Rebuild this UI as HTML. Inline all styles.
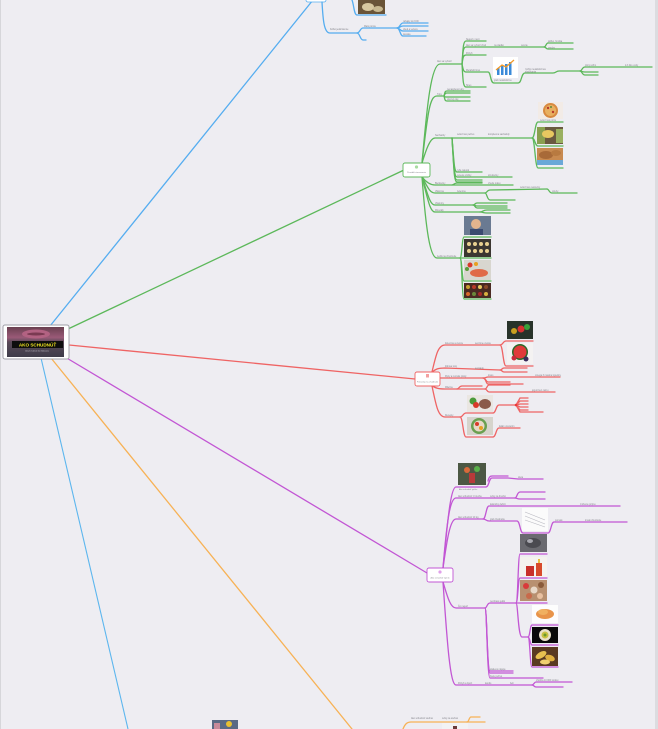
<!DOCTYPE html>
<html><head><meta charset="utf-8"><style>
html,body{margin:0;padding:0;background:#eeedf2;}
svg{display:block;}
.t{font-family:"Liberation Sans",sans-serif;font-size:2.3px;fill:#85858c;}
.g{stroke:#5cb85a;fill:none;stroke-width:1.3;stroke-linecap:round;}
.r{stroke:#ef6464;fill:none;stroke-width:1.3;stroke-linecap:round;}
.p{stroke:#c256d4;fill:none;stroke-width:1.3;stroke-linecap:round;}
.b{stroke:#55adf0;fill:none;stroke-width:1.3;stroke-linecap:round;}
.o{stroke:#f7b256;fill:none;stroke-width:1.3;stroke-linecap:round;}
.lb{stroke:#5cb6ee;fill:none;stroke-width:1.1;}
</style></head><body>
<svg width="658" height="729" viewBox="0 0 658 729" xmlns="http://www.w3.org/2000/svg">
<rect x="0" y="0" width="658" height="729" fill="#eeedf2"/>
<rect x="0" y="0" width="1" height="729" fill="#d6d6da"/>
<rect x="655" y="0" width="3" height="729" fill="#dcdce0"/>

<!-- main connectors -->
<path d="M50,326 L313,0" class="b" stroke-width="1"/>
<path d="M68,329 L404,170" class="g" stroke-width="1"/>
<path d="M69,345 L415,379" class="r" stroke-width="1"/>
<path d="M65,357 L427,573" class="p" stroke-width="1"/>
<path d="M51,358 L352,729" class="o" stroke-width="1"/>
<path d="M41,358 L128,729" class="lb" stroke-width="1"/>

<!-- ===== BLUE TOP ===== -->
<rect x="306" y="-10" width="20" height="12" rx="2" fill="#fff" stroke="#55adf0" stroke-width="0.8"/>
<path class="b" d="M322,2 C323,20 324,33 330,33 L357,33"/>
<path class="b" d="M357,33 C360,33 360,28 363,28 L397,28"/>
<path class="b" d="M397,28 C400,28 400,23 403,23 L428,23"/>
<path class="b" d="M397,28 C400,28 400,26 403,26 L428,26"/>
<path class="b" d="M397,28 C400,28 400,31 403,31 L428,31"/>
<path class="b" d="M397,28 C400,28 400,36 403,36 L426,36"/>
<path class="b" d="M357,33 C360,33 360,40 363,40 L366,40"/>
<path class="b" d="M352,0 C354,5 354,15 357,15 L386,15"/>
<rect x="358" y="0" width="27" height="14" fill="#6a5438"/>
<ellipse cx="368" cy="7" rx="6" ry="4" fill="#d8c8a0"/>
<ellipse cx="378" cy="9" rx="5" ry="3" fill="#c8b890"/>
<text class="t" x="330" y="30">Koľko jedál denne</text>
<text class="t" x="364" y="27">Malé porcie</text>
<text class="t" x="403" y="22">raňajky do 9:00</text>
<text class="t" x="403" y="30">obed a večera</text>
<text class="t" x="403" y="35">desiata</text>

<!-- ===== GREEN ===== -->
<path class="g" d="M422,163 C426,120 430,64 440,64 L462,64"/>
<path class="g" d="M462,64 C463,50 463,41 466,41 L486,41"/>
<path class="g" d="M462,64 C463,52 463,47 466,47 L544,47"/>
<path class="g" d="M544,47 C546,47 546,43 548,43 L573,43"/>
<path class="g" d="M544,47 C546,47 546,49 548,49 L573,49"/>
<path class="g" d="M462,64 C463,58 463,55 466,55 L486,55"/>
<path class="g" d="M462,64 C463,68 463,72 466,72 L488,72 C491,72 490,83 494,83 L518,83 C522,83 521,73 525,73 L553,73 C556,73 556,71 559,71 L580,71"/>
<path class="g" d="M580,71 C582,71 582,67 585,67 L652,67"/>
<path class="g" d="M580,71 C582,71 582,72 585,72 L598,72"/>
<path class="g" d="M580,71 C582,71 582,75 585,75 L598,75"/>
<path class="g" d="M462,64 C463,80 463,87 466,87 L486,87"/>
<rect x="493" y="57" width="25" height="21" fill="#fff"/>
<rect x="497" y="68" width="2.5" height="7" fill="#3a8ad8"/>
<rect x="501" y="66" width="2.5" height="9" fill="#3a8ad8"/>
<rect x="505" y="64" width="2.5" height="11" fill="#3a8ad8"/>
<rect x="509" y="62" width="2.5" height="13" fill="#3a8ad8"/>
<path d="M496,70 L502,65 L506,67 L514,60" stroke="#f39a2a" stroke-width="1.3" fill="none"/>
<text class="t" x="466" y="40">Nejesť v noci</text>
<text class="t" x="466" y="46">Ako sa vyhnúť chuti</text>
<text class="t" x="494" y="46">na sladké</text>
<text class="t" x="521" y="46">ovocie</text>
<text class="t" x="548" y="42">jablko, hruška</text>
<text class="t" x="548" y="48.5">orechy</text>
<text class="t" x="466" y="54">Pohyb</text>
<text class="t" x="466" y="71">Metabolizmus</text>
<text class="t" x="494" y="81">graf metabolizmu</text>
<text class="t" x="525" y="70">rýchly metabolizmus</text>
<text class="t" x="525" y="72.5">spaľovanie</text>
<text class="t" x="585" y="66">pitný režim</text>
<text class="t" x="625" y="66">2-3 litre vody</text>
<text class="t" x="466" y="86">Stres</text>
<text class="t" x="437" y="62">Ako sa vyhnúť</text>

<path class="g" d="M422,163 C428,110 430,96 437,96 L444,96"/>
<path class="g" d="M444,96 C445,92 445,91 447,91 L470,91"/>
<path class="g" d="M444,96 C445,94 445,93 447,93 L470,93"/>
<path class="g" d="M444,96 C445,97 445,97 447,97 L470,97"/>
<path class="g" d="M444,96 C445,100 445,101 447,101 L470,101"/>
<text class="t" x="437" y="95">Tuky</text>
<text class="t" x="447" y="90">nenasýtené tuky</text>
<text class="t" x="447" y="100">olivový olej</text>

<path class="g" d="M422,163 C426,150 430,138 435,138 L452,138"/>
<path class="g" d="M452,138 L532,138"/>
<path class="g" d="M532,138 C535,138 535,122 538,122 L563,122"/>
<path class="g" d="M532,138 C535,138 535,146 538,146 L563,146"/>
<path class="g" d="M532,138 C535,138 535,168 538,168 L563,168"/>
<path class="g" d="M452,138 C454,160 454,172 457,172 L482,172"/>
<path class="g" d="M452,138 C454,165 454,177 457,177 L512,177"/>
<path class="g" d="M452,138 C454,168 454,180 457,180 L482,180"/>
<path class="g" d="M452,138 C454,170 454,182 457,182 L482,182"/>
<text class="t" x="435" y="136">Sacharidy</text>
<text class="t" x="457" y="135">celozrnné pečivo</text>
<text class="t" x="488" y="135">komplexné sacharidy</text>
<text class="t" x="457" y="171">ryža natural</text>
<text class="t" x="457" y="176">ovsené vločky</text>
<text class="t" x="488" y="176">strukoviny</text>
<rect x="538" y="102" width="25" height="17" fill="#f2ebe6"/>
<circle cx="550.5" cy="110.5" r="7.5" fill="#d88a40"/>
<circle cx="550.5" cy="110.5" r="5.5" fill="#e8b060"/>
<circle cx="548" cy="108" r="1.2" fill="#b83a2a"/><circle cx="553" cy="112" r="1.2" fill="#b83a2a"/><circle cx="551" cy="107" r="1" fill="#5a8a3a"/>
<text class="t" x="540" y="121">celozrnná pizza</text>
<rect x="537" y="127" width="26" height="17" fill="#6a5a40"/>
<rect x="537" y="127" width="8" height="17" fill="#8aa050"/>
<ellipse cx="548" cy="134" rx="6" ry="4" fill="#e8c860"/>
<rect x="556" y="129" width="7" height="14" fill="#9ab060"/>
<rect x="537" y="148" width="26" height="17" fill="#c88a50"/>
<rect x="537" y="160" width="26" height="5" fill="#6aa8d8"/>
<ellipse cx="546" cy="155" rx="7" ry="4" fill="#a86a38"/>
<ellipse cx="556" cy="153" rx="5" ry="3" fill="#b87a40"/>

<path class="g" d="M422,177 C426,182 430,185 435,185 L513,185"/>
<path class="g" d="M452,185 C454,185 454,183 457,183 L482,183"/>
<text class="t" x="435" y="184">Bielkoviny</text>
<text class="t" x="488" y="184">chudé mäso</text>

<path class="g" d="M422,177 C428,188 430,193 435,193 L485,193"/>
<path class="g" d="M485,193 C487,193 487,190 490,190 L547,189"/>
<path class="g" d="M547,189 C549,189 549,193 552,193 L577,193"/>
<path class="g" d="M485,193 C487,193 487,200 490,200 L515,200"/>
<text class="t" x="435" y="192">Vláknina</text>
<text class="t" x="457" y="192">zelenina</text>
<text class="t" x="520" y="188">celozrnné cestoviny</text>
<text class="t" x="552" y="192">otruby</text>

<path class="g" d="M422,177 C428,195 430,205 435,205 L473,205"/>
<path class="g" d="M473,205 C475,205 475,203 477,203 L507,203"/>
<path class="g" d="M473,205 C475,205 475,206 477,206 L507,206"/>
<path class="g" d="M473,205 C475,205 475,208 477,208 L507,208"/>
<text class="t" x="435" y="204">Vitamíny</text>

<path class="g" d="M422,177 C428,200 430,212 435,212 L480,212"/>
<path class="g" d="M480,212 C483,212 483,210 487,210 L510,210"/>
<path class="g" d="M480,212 C483,212 483,213 487,213 L510,213"/>
<text class="t" x="435" y="211">Minerály</text>

<path class="g" d="M422,177 C426,230 430,258 437,258 L460,258"/>
<path class="g" d="M460,258 C462,258 462,237 464,237 L491,237"/>
<path class="g" d="M460,258 L491,258"/>
<path class="g" d="M460,258 C462,258 462,281 464,281 L491,281"/>
<path class="g" d="M460,258 C462,258 462,299 464,299 L491,299"/>
<text class="t" x="437" y="257">Jedlá na chudnutie</text>
<rect x="464" y="216" width="27" height="19" fill="#6a7a92"/>
<circle cx="476" cy="224" r="5" fill="#e2b48e"/>
<rect x="470" y="229" width="13" height="6" fill="#3a4a70"/>
<rect x="464" y="239" width="27" height="18" fill="#3b3631"/>
<circle cx="469" cy="244" r="2" fill="#e8d090"/><circle cx="475" cy="244" r="2" fill="#e8d090"/><circle cx="481" cy="244" r="2" fill="#e8d090"/><circle cx="487" cy="244" r="2" fill="#e8d090"/>
<circle cx="469" cy="251" r="2" fill="#e8d090"/><circle cx="475" cy="251" r="2" fill="#e8d090"/><circle cx="481" cy="251" r="2" fill="#e8d090"/><circle cx="487" cy="251" r="2" fill="#e8d090"/>
<rect x="464" y="260" width="27" height="20" fill="#d8d6cf"/>
<ellipse cx="479" cy="273" rx="9" ry="4" fill="#e06a48"/>
<circle cx="470" cy="265" r="2.5" fill="#d83a2a"/><circle cx="476" cy="264" r="2" fill="#e8a020"/><circle cx="467" cy="269" r="2" fill="#5a9a3a"/>
<rect x="464" y="283" width="27" height="15" fill="#4a2a22"/>
<circle cx="468" cy="287" r="2" fill="#c8a030"/><circle cx="474" cy="287" r="2" fill="#b83a2a"/><circle cx="480" cy="287" r="2" fill="#e8c860"/><circle cx="486" cy="287" r="2" fill="#8a4a2a"/>
<circle cx="468" cy="294" r="2" fill="#d86a2a"/><circle cx="474" cy="294" r="2" fill="#6a8a3a"/><circle cx="480" cy="294" r="2" fill="#a82a2a"/><circle cx="486" cy="294" r="2" fill="#d8b040"/>

<rect x="403" y="163" width="27" height="14" rx="2" fill="#fff" stroke="#5cb85a" stroke-width="0.9"/>
<circle cx="416.5" cy="167" r="1.6" fill="#a8dca0"/>
<text class="t" x="416.5" y="173" text-anchor="middle" style="font-size:2.1px">Pravidlá stravovania</text>

<!-- ===== RED ===== -->
<path class="r" d="M432,372 C436,355 438,345 445,345 L500,345"/>
<path class="r" d="M500,345 C503,345 503,341 506,341 L533,341"/>
<path class="r" d="M500,345 C503,345 503,366 506,366 L533,366"/>
<text class="t" x="445" y="344">Zelenina a ovocie</text>
<text class="t" x="475" y="344">sezónne ovocie</text>
<rect x="507" y="321" width="26" height="18" fill="#28332a"/>
<circle cx="514" cy="331" r="3" fill="#c8a020"/><circle cx="521" cy="329" r="3.5" fill="#d83030"/><circle cx="527" cy="327" r="3" fill="#3aa03a"/>
<rect x="507" y="343" width="26" height="21" fill="#f4f2f2"/>
<circle cx="520" cy="352" r="8" fill="#2a6a2a"/>
<circle cx="520" cy="352" r="6.5" fill="#e03a3a"/>
<circle cx="514" cy="358" r="2.5" fill="#c82a3a"/><circle cx="526" cy="359" r="2.5" fill="#3a2a5a"/>

<path class="r" d="M432,372 C436,369 438,368 445,368 L500,370"/>
<path class="r" d="M500,370 C502,370 502,368 504,368 L527,368"/>
<path class="r" d="M500,370 C502,370 502,372 504,372 L527,372"/>
<text class="t" x="445" y="367">Zdravé tuky</text>
<text class="t" x="475" y="369">avokádo</text>

<path class="r" d="M440,378 L483,378"/>
<path class="r" d="M483,378 C486,378 486,377 488,377 L560,377"/>
<path class="r" d="M483,378 C486,378 486,382 488,382 L510,382"/>
<path class="r" d="M483,378 C486,378 486,384 488,384 L523,384"/>
<text class="t" x="445" y="377">Ryby a morské plody</text>
<text class="t" x="488" y="376">losos</text>
<text class="t" x="535" y="376">omega 3 mastné kyseliny</text>

<path class="r" d="M432,386 C436,388 438,389 445,389 L457,389"/>
<path class="r" d="M457,389 C459,389 459,386 462,386 L482,386"/>
<path class="r" d="M457,389 C459,389 459,389 462,389 L485,389"/>
<path class="r" d="M485,389 C487,389 487,385 489,385 L510,385"/>
<path class="r" d="M485,389 C487,389 487,392 489,392 L555,392"/>
<text class="t" x="445" y="388">Mliečne</text>
<text class="t" x="532" y="391">jogurt bez cukru</text>

<path class="r" d="M432,386 C436,405 438,417 445,417 L460,417"/>
<path class="r" d="M460,417 C463,417 463,413 466,413 L493,413"/>
<path class="r" d="M460,417 C463,417 463,437 466,437 L493,437"/>
<path class="r" d="M493,413 C496,413 496,405 499,405 L516,405"/>
<path class="r" d="M516,405 L520,398 L528,398 M516,405 L520,401 L528,401 M516,405 L520,404 L528,404 M516,405 L520,407 L528,407 M516,405 L520,410 L528,410 M516,405 L520,412 L543,412" stroke-width="0.8"/>
<circle cx="516" cy="405" r="1.3" fill="#e83a3a"/>
<path class="r" d="M493,437 C496,437 496,428 499,428 L520,428"/>
<text class="t" x="445" y="416">Recepty</text>
<rect x="467" y="395" width="26" height="17" fill="#eae6e2"/>
<circle cx="473" cy="401" r="3.5" fill="#4a9a3a"/><circle cx="476" cy="405" r="3" fill="#d83a2a"/>
<ellipse cx="485" cy="404" rx="6" ry="5" fill="#8a5a4a"/>
<rect x="467" y="417" width="26" height="18" fill="#d6d4cc"/>
<circle cx="479" cy="426" r="8" fill="#6aa050"/>
<circle cx="479" cy="426" r="5.5" fill="#e8d8c8"/>
<circle cx="477" cy="424" r="2" fill="#d83a2a"/><circle cx="481" cy="428" r="2" fill="#e8a020"/>
<text class="t" x="499" y="427">šalát s kuracím</text>

<rect x="415" y="372" width="25" height="14" rx="2" fill="#fff" stroke="#ef6464" stroke-width="0.9"/>
<rect x="426" y="374" width="3" height="3.5" fill="#f3a0a0"/>
<text class="t" x="427.5" y="382.5" text-anchor="middle" style="font-size:2.1px">Potraviny na chudnutie</text>

<!-- ===== PURPLE ===== -->
<path class="p" d="M443,568 C447,530 450,487 456,487 L486,487"/>
<path class="p" d="M486,487 C489,487 489,478 492,478 L508,478 L518,479 L543,479"/>
<path class="p" d="M488,481 C489,477 490,476 492,476 L508,476" stroke-width="0.8"/>
<rect x="458" y="463" width="28" height="22" fill="#4c5844"/>
<circle cx="467" cy="470" r="3" fill="#d86a3a"/><circle cx="477" cy="469" r="3" fill="#5ab04a"/>
<rect x="469" y="473" width="6" height="10" fill="#b83a3a"/>
<text class="t" x="459" y="490" style="font-size:2px">Ako schudnúť rýchlo</text>
<text class="t" x="518" y="478">dieta</text>

<path class="p" d="M443,568 C447,520 450,498 456,498 L515,498"/>
<path class="p" d="M515,498 C517,498 517,492 520,492 L545,492"/>
<path class="p" d="M515,498 C517,498 517,499 520,499 L545,499"/>
<text class="t" x="458" y="497">Ako schudnúť z brucha</text>
<text class="t" x="490" y="497">cviky na brucho</text>

<path class="p" d="M443,568 C447,540 450,519 456,519 L483,519"/>
<path class="p" d="M483,519 C486,519 486,506 489,506 L620,506"/>
<path class="p" d="M483,519 C486,519 486,521 489,521 L517,521 C520,521 520,533 523,533 L548,533 C551,533 551,522 554,522 L627,522"/>
<text class="t" x="458" y="518">Ako schudnúť 10 kg</text>
<text class="t" x="490" y="505">kalorický deficit</text>
<text class="t" x="580" y="505">zníženie príjmu</text>
<text class="t" x="490" y="520">graf chudnutia</text>
<text class="t" x="555" y="521">pomalé</text>
<text class="t" x="585" y="521">trvalé chudnutie</text>
<rect x="522" y="508" width="26" height="23" fill="#fbfbfb"/>
<path d="M525,512 L545,520 M525,516 L545,524 M525,520 L545,527" stroke="#b8b8c0" stroke-width="0.6"/>

<path class="p" d="M443,582 C447,595 450,608 456,608 L485,608"/>
<path class="p" d="M485,608 C487,608 487,603 490,603 L516,603"/>
<path class="p" d="M516,603 C518,603 518,554 520,554 L547,554"/>
<path class="p" d="M516,603 C518,603 518,578 520,578 L547,578"/>
<path class="p" d="M516,603 L547,603"/>
<path class="p" d="M516,603 C518,603 518,637 522,637 L528,637"/>
<path class="p" d="M528,637 C530,637 530,625 532,625 L558,625"/>
<path class="p" d="M528,637 C530,637 530,645 532,645 L558,645"/>
<path class="p" d="M528,637 C530,637 530,667 532,667 L558,667"/>
<path class="p" d="M485,608 C487,608 487,671 490,671 L513,671"/>
<path class="p" d="M485,608 C487,608 487,673 490,673 L513,673"/>
<path class="p" d="M485,608 C487,608 487,678 490,678 L543,678"/>
<text class="t" x="458" y="607">Čo nejesť</text>
<text class="t" x="490" y="602">nezdravé jedlá</text>
<text class="t" x="490" y="670">sladené nápoje</text>
<text class="t" x="490" y="677">biele pečivo</text>
<rect x="520" y="534" width="27" height="18" fill="#6a6a70"/>
<ellipse cx="533" cy="543" rx="8" ry="5" fill="#4a4a50"/>
<ellipse cx="530" cy="541" rx="3" ry="2" fill="#a8a8b0"/>
<rect x="520" y="557" width="27" height="20" fill="#f4f2ee"/>
<rect x="526" y="566" width="8" height="10" fill="#c8302a"/>
<rect x="536" y="563" width="6" height="13" fill="#d84a2a"/>
<rect x="538" y="559" width="2" height="4" fill="#e8c040"/>
<rect x="520" y="580" width="27" height="21" fill="#b89070"/>
<circle cx="526" cy="586" r="3" fill="#d83a3a"/><circle cx="534" cy="590" r="3.5" fill="#e8d8c8"/><circle cx="541" cy="585" r="3" fill="#8a5a3a"/><circle cx="529" cy="596" r="3" fill="#c86a4a"/><circle cx="540" cy="596" r="3" fill="#e8c0a0"/>
<rect x="532" y="605" width="26" height="18" fill="#fdfdfd"/>
<ellipse cx="545" cy="614" rx="9" ry="5" fill="#e8944a"/>
<ellipse cx="543" cy="612" rx="5" ry="3" fill="#f0b060"/>
<rect x="532" y="627" width="26" height="16" fill="#0a0a0a"/>
<circle cx="545" cy="635" r="6" fill="#e8e0c8"/>
<circle cx="545" cy="635" r="3.5" fill="#c8c040"/>
<circle cx="545" cy="635" r="1.5" fill="#6a9a2a"/>
<rect x="532" y="647" width="26" height="19" fill="#5a3a22"/>
<ellipse cx="541" cy="655" rx="6" ry="3" fill="#e8c050" transform="rotate(-30 541 655)"/>
<ellipse cx="550" cy="658" rx="5" ry="3" fill="#e0b040" transform="rotate(20 550 658)"/>
<ellipse cx="545" cy="662" rx="5" ry="2.5" fill="#f0d070"/>

<path class="p" d="M443,582 C447,640 450,685 456,685 L532,685"/>
<path class="p" d="M532,685 C534,685 534,682 536,682 L572,682"/>
<path class="p" d="M532,685 C534,685 534,687 536,687 L563,687"/>
<text class="t" x="458" y="684">Pohyb a šport</text>
<text class="t" x="485" y="684">kardio</text>
<text class="t" x="510" y="684">beh</text>
<text class="t" x="536" y="681">chôdza 10 000 krokov</text>

<rect x="427" y="568" width="26" height="14" rx="2" fill="#fff" stroke="#c256d4" stroke-width="0.9"/>
<circle cx="440" cy="572" r="1.6" fill="#e0a0ea"/>
<text class="t" x="440" y="578.5" text-anchor="middle" style="font-size:2.1px">Ako schudnúť rýchlo</text>

<!-- ===== ORANGE ===== -->
<path class="o" d="M403,729 C405,724 407,722 411,722 L467,722"/>
<path class="o" d="M467,722 C469,722 469,717 471,717 L480,717"/>
<path class="o" d="M467,722 L485,722"/>
<text class="t" x="411" y="719">Ako schudnúť stehná</text>
<text class="t" x="442" y="719">cviky na stehná</text>
<rect x="442" y="723" width="26" height="10" fill="#f2f2f4"/>
<rect x="453" y="726" width="4" height="6" fill="#6a3a3a"/>

<!-- ===== LIGHT BLUE BOTTOM ===== -->
<rect x="212" y="720" width="26" height="12" fill="#5a6a84"/>
<circle cx="229" cy="724" r="3" fill="#e8c030"/>
<rect x="214" y="723" width="6" height="6" fill="#c88a9a"/>

<!-- ===== CENTRAL NODE ===== -->
<rect x="3" y="325" width="66" height="34" rx="2" fill="#fff" stroke="#a0a0a8" stroke-width="1"/>
<defs>
<linearGradient id="cg" x1="0" y1="0" x2="0" y2="1">
<stop offset="0" stop-color="#6a4050"/>
<stop offset="0.35" stop-color="#9a5a78"/>
<stop offset="0.5" stop-color="#5a4a58"/>
<stop offset="1" stop-color="#3e3c4a"/>
</linearGradient>
</defs>
<rect x="7" y="327" width="57" height="30" fill="url(#cg)"/>
<ellipse cx="36" cy="334" rx="14" ry="4.5" fill="#b26282"/>
<ellipse cx="36" cy="334" rx="9" ry="1.5" fill="#7a3a52"/>
<rect x="12" y="341" width="51" height="7" fill="#0e0e0e"/>
<text x="37.5" y="346.3" text-anchor="middle" style="font-family:'Liberation Sans',sans-serif;font-size:4.6px;font-weight:bold;fill:#f2e61e">AKO SCHUDNÚŤ</text>
<text x="37" y="351.5" text-anchor="middle" style="font-family:'Liberation Sans',sans-serif;font-size:1.6px;fill:#c8c8d0">Zdravé chudnutie bez hladovania</text>
</svg>
</body></html>
